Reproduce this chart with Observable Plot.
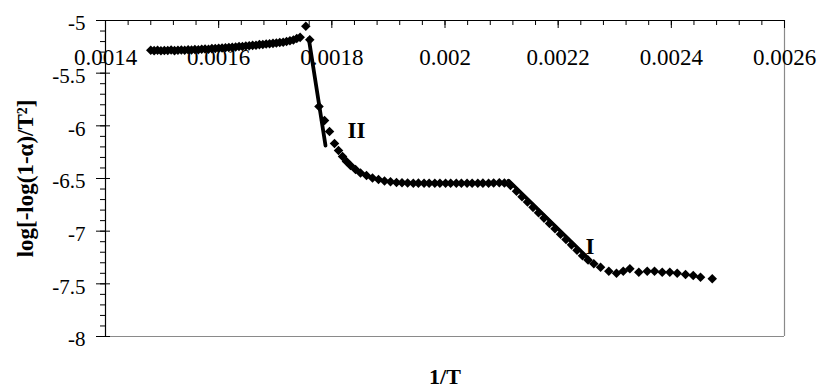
<!DOCTYPE html>
<html><head><meta charset="utf-8">
<script src="https://cdn.jsdelivr.net/npm/d3@7"></script>
<script src="https://cdn.jsdelivr.net/npm/@observablehq/plot@0.6"></script>
<style>html,body{margin:0;padding:0;background:#fff;overflow:hidden}</style>
</head><body><div id="chart"></div>
<script>
// [1/T, log[-log(1-α)/T²]], per region
const plateauHigh = [
  [0.001480,-5.283],[0.001486,-5.286],[0.001492,-5.282],[0.001498,-5.287],[0.001504,-5.284],
  [0.001510,-5.285],[0.001516,-5.281],[0.001522,-5.286],[0.001528,-5.283],[0.001534,-5.280],
  [0.001540,-5.283],[0.001546,-5.278],[0.001552,-5.280],[0.001558,-5.276],[0.001564,-5.278],
  [0.001570,-5.273],[0.001576,-5.271],[0.001582,-5.272],[0.001588,-5.267],[0.001594,-5.266],
  [0.001600,-5.263],[0.001606,-5.262],[0.001612,-5.258],[0.001618,-5.257],[0.001624,-5.253],
  [0.001630,-5.252],[0.001636,-5.247],[0.001642,-5.246],[0.001648,-5.242],[0.001654,-5.240],
  [0.001660,-5.236],[0.001666,-5.234],[0.001672,-5.229],[0.001678,-5.228],[0.001684,-5.223],
  [0.001690,-5.221],[0.001696,-5.217],[0.001702,-5.214],[0.001708,-5.209],[0.001714,-5.206],
  [0.001720,-5.200],[0.001726,-5.193],[0.001732,-5.186],[0.001738,-5.170],[0.001744,-5.160],
  [0.001754,-5.055],[0.001761,-5.183]
];
const dropII = [
  [0.0017773,-5.817],[0.0017871,-5.949],[0.0017959,-6.054],[0.0018047,-6.168],[0.0018118,-6.234],
  [0.0018189,-6.291],[0.0018259,-6.339],[0.0018330,-6.377],[0.0018419,-6.415],[0.0018507,-6.448],
  [0.0018613,-6.472],[0.0018719,-6.495],[0.0018825,-6.510],[0.0018931,-6.524],[0.0019037,-6.531],
  [0.0019143,-6.538],[0.0019240,-6.541]
];
const plateauLow = [
  [0.001934,-6.543],[0.001944,-6.545],[0.001953,-6.544],[0.001963,-6.546],[0.001972,-6.545],
  [0.001982,-6.546],[0.001991,-6.545],[0.002001,-6.546],[0.002010,-6.545],[0.002020,-6.546],
  [0.002029,-6.546],[0.002039,-6.545],[0.002048,-6.546],[0.002058,-6.545],[0.002067,-6.544],
  [0.002077,-6.545],[0.002086,-6.542],[0.002096,-6.540],[0.002105,-6.543]
];
const dropI = [
  [0.0021158,-6.567],[0.0021264,-6.622],[0.0021361,-6.673],[0.0021458,-6.723],[0.0021556,-6.774],
  [0.0021653,-6.826],[0.0021750,-6.876],[0.0021847,-6.927],[0.0021944,-6.978],[0.0022042,-7.029],
  [0.0022139,-7.080],[0.0022236,-7.130],[0.0022333,-7.182],[0.0022430,-7.233],[0.0022528,-7.274],
  [0.0022630,-7.310],[0.0022749,-7.342]
];
const tail = [
  [0.0022895,-7.380],[0.0023031,-7.399],[0.0023150,-7.380],[0.0023267,-7.357],[0.0023425,-7.390],
  [0.0023574,-7.380],[0.0023703,-7.380],[0.0023839,-7.390],[0.0023973,-7.390],[0.0024104,-7.399],
  [0.0024251,-7.411],[0.0024387,-7.421],[0.0024516,-7.437],[0.0024723,-7.452]
];
// fitted straight lines for regions II and I
const fitII = [[0.0017593,-5.174],[0.0017888,-6.187]];
const fitI = [[0.0021123,-6.519],[0.0022519,-7.250]];
const regionLabels = ["II","I"];
const regionPos = [[0.0018436,-6.049],[0.0022563,-7.146]];
const xTickLabels = ["0.0014","0.0016","0.0018","0.002","0.0022","0.0024","0.0026"];
const yTickLabels = ["-5","-5.5","-6","-6.5","-7","-7.5","-8"];
const xTitle = "1/T";
const yTitle = "log[-log(1-α)/T²]";

const pts = [...plateauHigh, ...dropII, ...plateauLow, ...dropI, ...tail].map(([x,y]) => ({x, y}));
const toXY = a => a.map(([x,y]) => ({x, y}));
const xMajor = xTickLabels.map(Number);
const yMajor = yTickLabels.map(Number);
const xMinor = d3.range(0, 31).map(i => 0.0014 + i * 0.00004);
const yMinor = d3.range(0, 31).map(i => -8 + i * 0.1);
const serif = "'Liberation Serif','Times New Roman',Times,serif";

const chart = Plot.plot({
  width: 817, height: 389,
  marginLeft: 105, marginRight: 33, marginTop: 20, marginBottom: 53,
  x: {domain: [0.0014, 0.0026], axis: null},
  y: {domain: [-8, -5], axis: null},
  style: {fontFamily: serif, background: "#fff", color: "#000", overflow: "visible"},
  marks: [
    Plot.ruleY([-8], {stroke: "#8a8a8a", strokeWidth: 1.2}),
    Plot.ruleX([0.0026], {stroke: "#8a8a8a", strokeWidth: 1.2}),
    Plot.tickX(xMinor, {x: d => d, insetBottom: 311, stroke: "#000"}),
    Plot.tickX(xMajor, {x: d => d, insetBottom: 308, stroke: "#000"}),
    Plot.tickY(yMinor, {y: d => d, insetLeft: -5, insetRight: 679, stroke: "#000"}),
    Plot.tickY(yMajor, {y: d => d, insetLeft: -9, insetRight: 674, stroke: "#000"}),
    Plot.ruleY([-5], {stroke: "#000", strokeWidth: 1.2}),
    Plot.ruleX([0.0014], {stroke: "#000", strokeWidth: 1.2}),
    Plot.dot(pts, {x: "x", y: "y", symbol: "diamond2", r: 4.3, fill: "#000", stroke: null}),
    Plot.line(toXY(fitII), {x: "x", y: "y", stroke: "#000", strokeWidth: 3.8}),
    Plot.line(toXY(fitI), {x: "x", y: "y", stroke: "#000", strokeWidth: 3.5}),
    Plot.text(regionLabels, {x: (d, i) => regionPos[i][0], y: (d, i) => regionPos[i][1], text: d => d,
      lineAnchor: "middle", fontWeight: "bold", fontSize: 23, fill: "#000"}),
    Plot.text(xTickLabels, {x: d => +d, text: d => d, frameAnchor: "top", lineAnchor: "middle", dy: 37.5, fontSize: 23, fill: "#000"}),
    Plot.text(yTickLabels, {y: d => +d, text: d => d, frameAnchor: "left", lineAnchor: "middle", textAnchor: "end", dx: -20, dy: 3, fontSize: 21, fill: "#000"}),
    Plot.text([xTitle], {text: d => d, frameAnchor: "bottom", lineAnchor: "middle", textAnchor: "middle", dy: 40.5, fontWeight: "bold", fontSize: 22, fill: "#000"}),
    Plot.text([yTitle], {text: d => d, frameAnchor: "left", lineAnchor: "middle", textAnchor: "middle", rotate: -90, dx: -80, fontWeight: "bold", fontSize: 23, fill: "#000"})
  ]
});
document.getElementById("chart").appendChild(chart);
</script>
</body></html>
